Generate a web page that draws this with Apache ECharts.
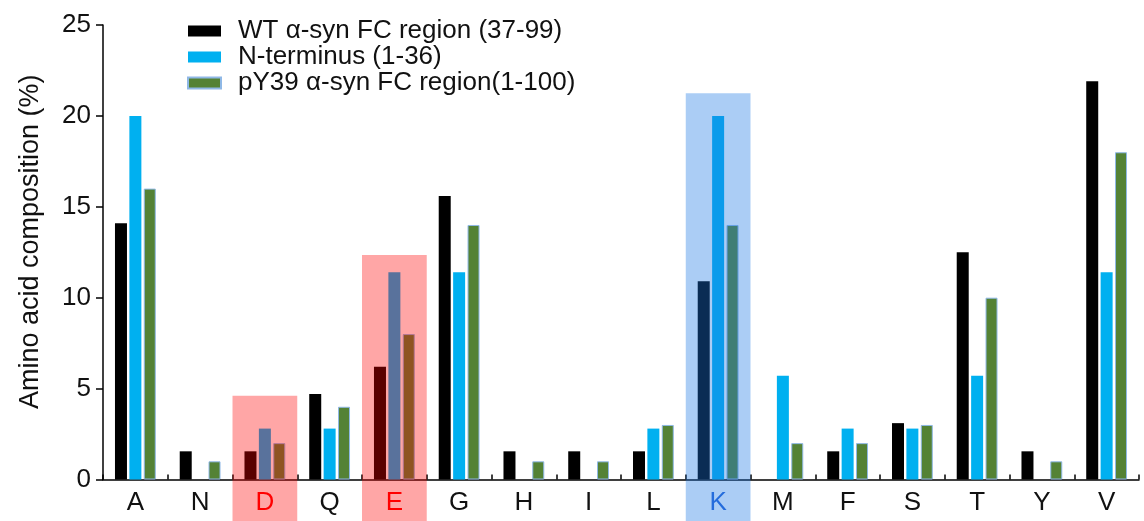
<!DOCTYPE html>
<html>
<head>
<meta charset="utf-8">
<title>Amino acid composition</title>
<script src="https://cdn.jsdelivr.net/npm/echarts@6/dist/echarts.min.js"></script>
<style>
  html, body { margin: 0; padding: 0; background: #ffffff; }
  #chart { width: 1144px; height: 521px; }
</style>
</head>
<body>
<div id="chart"></div>
<script>
// Residue categories along the x axis
const categories = ['A', 'N', 'D', 'Q', 'E', 'G', 'H', 'I', 'L', 'K', 'M', 'F', 'S', 'T', 'Y', 'V'];

// Composition (%) per region
const wtFC       = [14.1, 1.55, 1.55, 4.7, 6.2, 15.6, 1.55, 1.55, 1.55, 10.9, 0, 1.55, 3.1, 12.5, 1.55, 21.9];
const nTerminus  = [20.0, 0, 2.8, 2.8, 11.4, 11.4, 0, 0, 2.8, 20.0, 5.7, 2.8, 2.8, 5.7, 0, 11.4];
const pY39FC     = [16.0, 1.0, 2.0, 4.0, 8.0, 14.0, 1.0, 1.0, 3.0, 14.0, 2.0, 2.0, 3.0, 10.0, 1.0, 18.0];

const seriesNames = ['WT \u03b1-syn FC region (37-99)', 'N-terminus (1-36)', 'pY39 \u03b1-syn FC region(1-100)'];

// Highlighted residues: category and upper edge of the shaded band (%)
const highlightCats = ['D', 'E', 'K'];
const highlightTops = [4.6, 12.35, 21.25];

// y-axis ticks
const yTicks = [0, 5, 10, 15, 20, 25];

const FONT = 'Liberation Sans, Arial, Helvetica, sans-serif';
const bandFill = { D: 'rgba(255,0,0,0.35)', E: 'rgba(255,0,0,0.35)', K: 'rgba(27,120,228,0.37)' };
const labelColor = { D: '#ff0000', E: '#ff0000', K: '#2a66d8' };

const chart = echarts.init(document.getElementById('chart'), null, { renderer: 'canvas' });

const barCommon = { type: 'bar', barWidth: 12, barGap: '20%' };

chart.setOption({
  animation: false,
  backgroundColor: '#ffffff',
  textStyle: { fontFamily: FONT },
  grid: { left: 103, right: 5, top: 25, bottom: 41.5, containLabel: false },
  legend: {
    data: seriesNames,
    orient: 'vertical',
    left: 182,
    top: 13,
    icon: 'rect',
    itemWidth: 33,
    itemHeight: 11,
    itemGap: 0,
    textStyle: { fontFamily: FONT, fontSize: 26, color: '#111111', lineHeight: 26, padding: [0, 0, 0, 12] }
  },
  xAxis: {
    type: 'category',
    data: categories,
    boundaryGap: true,
    axisLine: { lineStyle: { color: '#000000', width: 1.5 } },
    axisTick: { show: true, inside: true, length: 5, alignWithLabel: false, lineStyle: { color: '#000000', width: 1.5 } },
    axisLabel: {
      fontFamily: FONT,
      fontSize: 26,
      margin: 10,
      interval: 0,
      color: function (value) { return labelColor[value] || '#111111'; }
    },
    splitLine: { show: false }
  },
  yAxis: {
    type: 'value',
    min: yTicks[0],
    max: yTicks[yTicks.length - 1],
    interval: yTicks[1] - yTicks[0],
    name: 'Amino acid composition (%)',
    nameLocation: 'middle',
    nameGap: 59,
    nameTextStyle: { fontFamily: FONT, fontSize: 27, color: '#111111', padding: [0, 0, 0, 21] },
    axisLine: { show: true, lineStyle: { color: '#000000', width: 1.5 } },
    axisTick: { show: true, inside: false, length: 7, lineStyle: { color: '#000000', width: 1.5 } },
    axisLabel: { fontFamily: FONT, fontSize: 26, color: '#111111', margin: 12 },
    splitLine: { show: false }
  },
  series: [
    Object.assign({}, barCommon, {
      name: seriesNames[0],
      data: wtFC,
      itemStyle: { color: '#000000' }
    }),
    Object.assign({}, barCommon, {
      name: seriesNames[1],
      data: nTerminus,
      itemStyle: { color: '#00b0f0' }
    }),
    Object.assign({}, barCommon, {
      name: seriesNames[2],
      data: pY39FC,
      itemStyle: { color: '#548235', borderColor: '#8fb8e6', borderWidth: 1 }
    }),
    {
      // translucent bands laid over the highlighted residues
      type: 'custom',
      name: 'highlight',
      silent: true,
      z: 10,
      clip: false,
      data: highlightCats.map(function (c, i) { return [categories.indexOf(c), highlightTops[i], c]; }),
      renderItem: function (params, api) {
        const idx = api.value(0);
        const top = api.coord([idx, api.value(1)]);
        const w = api.size([1, 0])[0];
        const cat = categories[idx];
        return {
          type: 'rect',
          shape: { x: top[0] - w / 2, y: top[1], width: w, height: api.getHeight() - top[1] },
          style: { fill: bandFill[cat] }
        };
      }
    }
  ]
});
</script>
</body>
</html>
